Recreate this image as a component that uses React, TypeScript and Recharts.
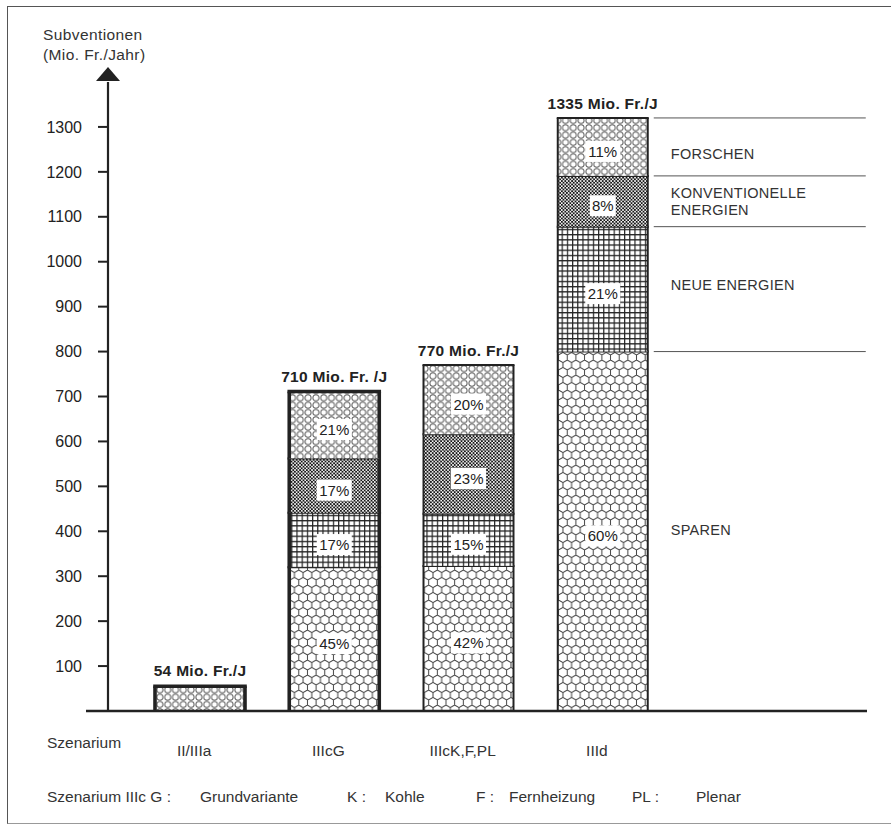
import React from 'react';
import { BarChart, Bar, XAxis, YAxis, ReferenceLine, LabelList } from 'recharts';

// values (Mio. Fr. per year)
const scenarios = ['II/IIIa', 'IIIcG', 'IIIcK,F,PL', 'IIId'];
const sparen = [0, 320, 323, 800];
const neueEnergien = [0, 121, 116, 278];
const konventionell = [0, 121, 177, 113];
const forschen = [55, 149, 154, 129];

const sparenPct = ['', '45%', '42%', '60%'];
const neuePct = ['', '17%', '15%', '21%'];
const konvPct = ['', '17%', '23%', '8%'];
const forschenPct = ['', '21%', '20%', '11%'];

const totalLabels = ['54 Mio. Fr./J', '710 Mio. Fr. /J', '770 Mio. Fr./J', '1335 Mio. Fr./J'];
const heavyOutline = [true, true, false, false];
const yTicks = [100, 200, 300, 400, 500, 600, 700, 800, 900, 1000, 1100, 1200, 1300];

const data = scenarios.map((name, i) => ({
  name,
  sparen: sparen[i],
  neue: neueEnergien[i],
  konv: konventionell[i],
  forschen: forschen[i],
}));

const INK = '#222';
const FONT = '"Liberation Sans", Arial, sans-serif';

type Series = {
  key: string;
  pct: string[];
  side: string[];
  sideDy: number;
  top?: boolean;
};

const series: Series[] = [
  { key: 'sparen', pct: sparenPct, side: ['SPAREN'], sideDy: 4 },
  { key: 'neue', pct: neuePct, side: ['NEUE ENERGIEN'], sideDy: 1 },
  { key: 'konv', pct: konvPct, side: ['KONVENTIONELLE', 'ENERGIEN'], sideDy: 0 },
  { key: 'forschen', pct: forschenPct, side: ['FORSCHEN'], sideDy: 12, top: true },
];

// hex cell geometry for the SPAREN pattern
const HS = 5;
const HW = Math.sqrt(3) * HS;

function Patterns() {
  const hexPath = [
    `M${HW / 2},0 L${HW},${HS / 2} L${HW},${1.5 * HS} L${HW / 2},${2 * HS} L0,${1.5 * HS} L0,${HS / 2} Z`,
    `M${HW / 2},${2 * HS} L${HW / 2},${3 * HS}`,
  ].join(' ');
  return (
    <defs>
      <pattern id="pat-sparen" patternUnits="userSpaceOnUse" width={HW} height={3 * HS}>
        <rect width={HW} height={3 * HS} fill="#fff" />
        <path d={hexPath} fill="none" stroke="#444" strokeWidth={1} />
      </pattern>
      <pattern id="pat-neue" patternUnits="userSpaceOnUse" width={5.2} height={5.2}>
        <rect width={5.2} height={5.2} fill="#fff" />
        <path d="M0,0.6 H5.2 M0.6,0 V5.2" stroke={INK} strokeWidth={1.2} />
      </pattern>
      <pattern id="pat-konv" patternUnits="userSpaceOnUse" width={3.4} height={3.4}>
        <rect width={3.4} height={3.4} fill="#fff" />
        <circle cx={0.85} cy={0.85} r={1.05} fill="#111" />
        <circle cx={2.55} cy={2.55} r={1.05} fill="#111" />
      </pattern>
      <pattern id="pat-forschen" patternUnits="userSpaceOnUse" width={7.8} height={7.3}>
        <rect width={7.8} height={7.3} fill="#fff" />
        <circle cx={3.9} cy={3.65} r={3} fill="none" stroke="#555" strokeWidth={1} />
      </pattern>
    </defs>
  );
}

function makeShape(s: Series) {
  return (props: any) => {
    const { x, y, width, height, index } = props;
    if (!(height > 0)) return <g />;
    const side = heavyOutline[index] ? 3.6 : 2;
    const topW = s.top ? side : 2;
    return (
      <g>
        <rect x={x} y={y} width={width} height={height} fill={`url(#pat-${s.key})`} />
        <line x1={x} x2={x} y1={y} y2={y + height} stroke={INK} strokeWidth={side} />
        <line x1={x + width} x2={x + width} y1={y} y2={y + height} stroke={INK} strokeWidth={side} />
        <line x1={x - side / 2} x2={x + width + side / 2} y1={y} y2={y} stroke={INK} strokeWidth={topW} />
      </g>
    );
  };
}

function makeLabel(s: Series) {
  return (props: any) => {
    const vb = props.viewBox || props;
    const { x, y, width, height } = vb;
    const i = props.index;
    if (!(height > 0)) return <g />;
    const cx = x + width / 2;
    const cy = y + height / 2;
    const pct = s.pct[i];
    const side = heavyOutline[i] ? 3.6 : 2;
    const boxW = pct.length * 9 + 8;
    return (
      <g>
        {pct && (
          <g>
            <rect x={cx - boxW / 2} y={cy - 6} width={boxW} height={21} fill="#fff" />
            <text x={cx} y={cy + 10} textAnchor="middle" fontFamily={FONT} fontSize={15} fill={INK}>
              {pct}
            </text>
          </g>
        )}
        {i === scenarios.length - 1 && (
          <g>
            <line x1={x + width + 6} x2={x + width + 218} y1={y} y2={y} stroke="#555" strokeWidth={1} />
            {s.side.map((t, k) => (
              <text
                key={t}
                x={x + width + 23}
                y={cy + s.sideDy + k * 17 - (s.side.length - 1) * 3}
                fontFamily={FONT}
                fontSize={14.5}
                letterSpacing={0.3}
                fill="#333"
              >
                {t}
              </text>
            ))}
          </g>
        )}
        {s.top && (
          <text
            x={cx}
            y={y - 8 - side / 2}
            textAnchor="middle"
            fontFamily={FONT}
            fontWeight="bold"
            fontSize={15.5}
            letterSpacing={0.3}
            fill={INK}
          >
            {totalLabels[i]}
          </text>
        )}
      </g>
    );
  };
}

function AxisHead(props: any) {
  const vb = props.viewBox || { x: 0, y: 82, width: 108 };
  const ax = vb.x + vb.width;
  const top = vb.y;
  return (
    <g>
      <polygon points={`${ax},${top - 15} ${ax - 12},${top - 1} ${ax + 12},${top - 1}`} fill={INK} />
      <text x={ax - 65} y={top - 42} fontFamily={FONT} fontSize={15.5} letterSpacing={0.4} fill="#333">
        Subventionen
      </text>
      <text x={ax - 65} y={top - 22} fontFamily={FONT} fontSize={15.5} letterSpacing={0.4} fill="#333">
        (Mio. Fr./Jahr)
      </text>
    </g>
  );
}

const footnote = [
  { t: 'Szenarium IIIc G :', dx: -61 },
  { t: 'Grundvariante', dx: 92 },
  { t: 'K :', dx: 239 },
  { t: 'Kohle', dx: 277 },
  { t: 'F :', dx: 368 },
  { t: 'Fernheizung', dx: 401 },
  { t: 'PL :', dx: 524 },
  { t: 'Plenar', dx: 588 },
];

function AxisFoot(props: any) {
  const vb = props.viewBox || { x: 108, y: 711 };
  return (
    <g fontFamily={FONT} fontSize={15.5} fill="#333">
      <text x={vb.x - 61} y={vb.y + 37}>Szenarium</text>
      {footnote.map((f) => (
        <text key={f.t} x={vb.x + f.dx} y={vb.y + 91}>
          {f.t}
        </text>
      ))}
    </g>
  );
}

function ScenarioTick(props: any) {
  const { x, y, payload } = props;
  return (
    <text x={x - 6} y={y + 37} textAnchor="middle" fontFamily={FONT} fontSize={15.5} fill="#333">
      {payload.value}
    </text>
  );
}

function Baseline(props: any) {
  const { x1, x2, y1 } = props;
  return <line x1={x1 - 22} x2={x2} y1={y1} y2={y1} stroke={INK} strokeWidth={2.5} />;
}

export default function App() {
  return (
    <div style={{ position: 'absolute', left: 0, top: 0, width: 891, height: 825, background: '#fff' }}>
      <div
        style={{
          position: 'absolute',
          left: 7,
          top: 6,
          width: 900,
          height: 816,
          borderTop: '1.5px solid #555',
          borderLeft: '1.5px solid #555',
          borderBottom: '1.5px solid #999',
        }}
      />
      <div style={{ position: 'absolute', left: 0, top: 0 }}>
        <BarChart width={891} height={825} data={data} margin={{ top: 82, right: 24, bottom: 0, left: 0 }}>
          <Patterns />
          <XAxis
            dataKey="name"
            height={114}
            axisLine={false}
            tickLine={false}
            tick={<ScenarioTick />}
            padding={{ left: 25, right: 197 }}
            label={<AxisFoot />}
          />
          <YAxis
            width={108}
            domain={[0, 1400]}
            ticks={yTicks}
            interval={0}
            axisLine={{ stroke: INK, strokeWidth: 2.2 }}
            tickLine={{ stroke: INK, strokeWidth: 2 }}
            tickSize={10}
            tickMargin={16}
            tick={{ fontFamily: FONT, fontSize: 16, fill: INK }}
            label={<AxisHead />}
          />
          {series.map((s) => (
            <Bar
              key={s.key}
              dataKey={s.key}
              stackId="a"
              barSize={90}
              shape={makeShape(s)}
              isAnimationActive={false}
            >
              <LabelList dataKey={s.key} content={makeLabel(s)} />
            </Bar>
          ))}
          <ReferenceLine y={0} shape={<Baseline />} />
        </BarChart>
      </div>
    </div>
  );
}
